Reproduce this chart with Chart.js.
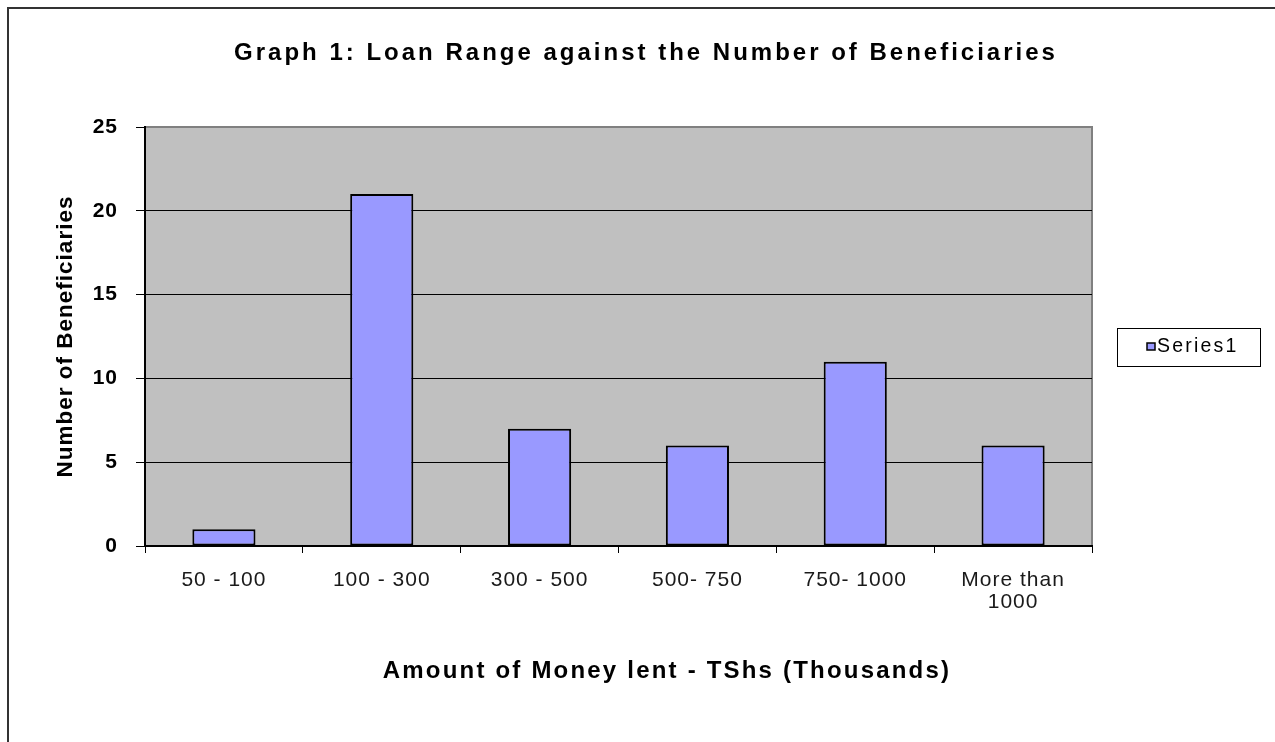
<!DOCTYPE html>
<html>
<head>
<meta charset="utf-8">
<title>Loan Range against the Number of Beneficiaries</title>
<script src="https://cdn.jsdelivr.net/npm/chart.js@4.4.1/dist/chart.umd.min.js"></script>
<style>
  html, body { margin: 0; padding: 0; background: #fff; }
  canvas { display: block; }
</style>
</head>
<body>
<canvas id="loanChart" width="1275" height="742"></canvas>
<script>
// Chart values
const loanRanges = ['50 - 100', '100 - 300', '300 - 500', '500- 750', '750- 1000', ['More than', '1000']];
const beneficiaries = [1, 21, 7, 6, 11, 6];
const yMax = 25;
const yStep = 5;

const chartTitle = 'Graph 1: Loan Range against the Number of Beneficiaries';
const xTitle = 'Amount of Money lent - TShs (Thousands)';
const yTitle = 'Number of Beneficiaries';
const seriesName = 'Series1';

const FONT = '"Liberation Sans", Arial, sans-serif';

// Draws the outer frame, grey plot area, title, x title and the legend box
const excelFrame = {
    id: 'excelFrame',
    beforeDraw(chart) {
        const ctx = chart.ctx;
        const a = chart.chartArea;
        ctx.save();
        ctx.fillStyle = '#fff';
        ctx.fillRect(0, 0, chart.width, chart.height);
        ctx.strokeStyle = '#333';
        ctx.lineWidth = 2;
        ctx.strokeRect(8, 8, chart.width + 20, chart.height + 20);
        ctx.fillStyle = '#c0c0c0';
        ctx.fillRect(a.left, a.top, a.right - a.left, a.bottom - a.top);
        ctx.strokeStyle = '#808080';
        ctx.strokeRect(a.left, a.top, a.right - a.left, a.bottom - a.top);
        ctx.restore();
        // the old Excel rendering is a bit wider than Arial
        ctx.letterSpacing = '1px';
    },
    afterDraw(chart) {
        const ctx = chart.ctx;
        ctx.save();
        ctx.fillStyle = '#000';
        ctx.textBaseline = 'middle';
        ctx.textAlign = 'left';

        // chart title
        ctx.font = 'bold 24px ' + FONT;
        ctx.letterSpacing = '3px';
        let w = ctx.measureText(chartTitle).width;
        ctx.fillText(chartTitle, 646 - w / 2, 53);

        // x axis title
        ctx.letterSpacing = '2.2px';
        w = ctx.measureText(xTitle).width;
        ctx.fillText(xTitle, 667 - w / 2, 671);

        // legend
        const ds = chart.data.datasets[0];
        ctx.strokeStyle = '#000';
        ctx.lineWidth = 1;
        ctx.strokeRect(1117.5, 328.5, 143, 38);
        ctx.fillStyle = ds.backgroundColor;
        ctx.fillRect(1147, 343, 8, 7);
        ctx.lineWidth = 1.5;
        ctx.strokeRect(1147, 343, 8, 7);
        ctx.fillStyle = '#000';
        ctx.font = '19.5px ' + FONT;
        ctx.letterSpacing = '2.2px';
        ctx.fillText(ds.label, 1157, 347);
        ctx.restore();
    }
};

document.addEventListener('DOMContentLoaded', () => {
    const ctx = document.getElementById('loanChart').getContext('2d');
    new Chart(ctx, {
        type: 'bar',
        data: {
            labels: loanRanges,
            datasets: [{
                label: seriesName,
                data: beneficiaries,
                backgroundColor: '#9999ff',
                borderColor: '#000',
                borderWidth: 2,
                borderSkipped: false,
                barPercentage: 0.4,
                categoryPercentage: 1.0
            }]
        },
        options: {
            responsive: false,
            animation: false,
            devicePixelRatio: 1,
            layout: {
                padding: { top: 127, right: 183, left: 0, bottom: 0 }
            },
            plugins: {
                legend: { display: false },
                title: { display: false },
                tooltip: { enabled: false }
            },
            scales: {
                x: {
                    offset: true,
                    afterFit: (scale) => { scale.height = 196; },
                    grid: {
                        offset: true,
                        drawOnChartArea: false,
                        drawTicks: true,
                        tickLength: 7,
                        color: '#000',
                        lineWidth: 1
                    },
                    border: { display: true, color: '#000', width: 2 },
                    ticks: {
                        color: '#1a1a1a',
                        padding: 16,
                        maxRotation: 0,
                        autoSkip: false,
                        font: { family: FONT, size: 21, lineHeight: 1.05 }
                    }
                },
                y: {
                    min: 0,
                    max: yMax,
                    afterFit: (scale) => { scale.width = 145; },
                    grid: {
                        color: (c) => (c.tick && c.tick.value === yMax ? '#808080' : '#000'),
                        tickColor: '#000',
                        tickLength: 9,
                        lineWidth: 1
                    },
                    border: { display: true, color: '#000', width: 2 },
                    ticks: {
                        stepSize: yStep,
                        color: '#000',
                        padding: 18,
                        font: { family: FONT, size: 21, weight: 'bold' }
                    },
                    title: {
                        display: true,
                        text: yTitle,
                        color: '#000',
                        padding: { top: 52, bottom: 0 },
                        font: { family: FONT, size: 22.5, weight: 'bold', lineHeight: 1.2 }
                    }
                }
            }
        },
        plugins: [excelFrame]
    });
});
</script>
</body>
</html>
